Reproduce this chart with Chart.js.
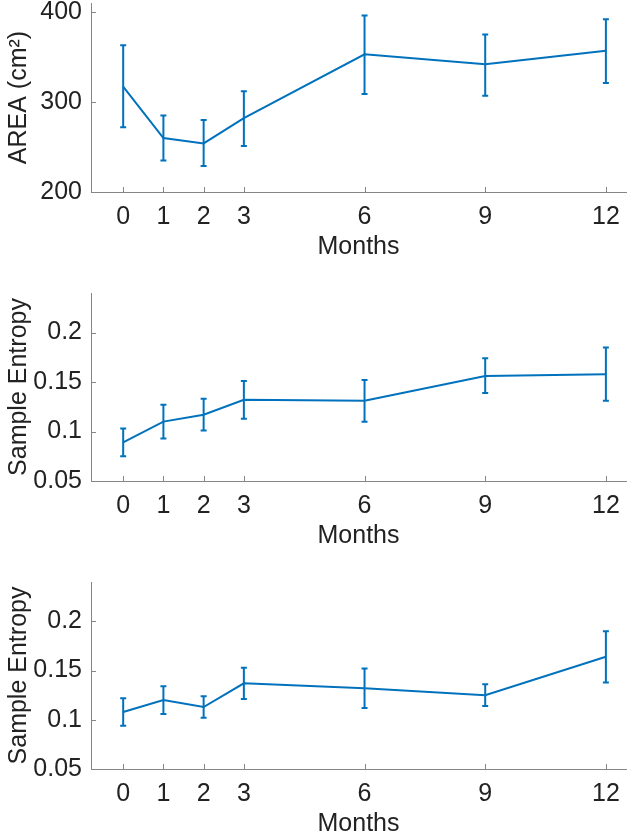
<!DOCTYPE html>
<html>
<head>
    <style>
        body {
            margin: 0;
            background-color: #ffffff;
            overflow: hidden;
            width: 630px;
            height: 837px;
            position: relative;
        }

        /* one canvas per panel, stacked */
        .panel {
            position: absolute;
            left: 0;
            width: 630px;
            height: 290px;
        }
    </style>
    <script src="https://cdn.jsdelivr.net/npm/chart.js"></script>
</head>
<body>
    <canvas id="areaChart" class="panel" width="630" height="290" style="top: 0px;"></canvas>
    <canvas id="entropyChartA" class="panel" width="630" height="290" style="top: 290px;"></canvas>
    <canvas id="entropyChartB" class="panel" width="630" height="290" style="top: 579px;"></canvas>
    <script>
        // x categories (months)
        var months = [0, 1, 2, 3, 6, 9, 12];

        // panel 1: area
        var areaMean = [317, 260, 254, 282, 353, 342, 357];
        var areaLow = [272, 235, 229, 251, 309, 307, 321];
        var areaHigh = [363, 285, 280, 312, 396, 375, 392];
        var areaTicks = [200, 300, 400];

        // panel 2: sample entropy
        var entropyAMean = [0.089, 0.110, 0.117, 0.132, 0.131, 0.156, 0.158];
        var entropyALow = [0.075, 0.093, 0.101, 0.113, 0.110, 0.139, 0.131];
        var entropyAHigh = [0.103, 0.127, 0.133, 0.151, 0.152, 0.174, 0.185];

        // panel 3: sample entropy
        var entropyBMean = [0.108, 0.120, 0.113, 0.137, 0.132, 0.125, 0.164];
        var entropyBLow = [0.094, 0.106, 0.102, 0.121, 0.112, 0.114, 0.138];
        var entropyBHigh = [0.122, 0.134, 0.124, 0.153, 0.152, 0.136, 0.190];

        var entropyTicks = [0.05, 0.1, 0.15, 0.2];

        var lineBlue = '#0072BD';
        var axisGrey = '#858585';
        var textDark = '#222222';
        var fontFamily = '"Liberation Sans", Arial, Helvetica, sans-serif';

        // vertical error bars with small caps
        var errorBarPlugin = {
            id: 'errorBars',
            afterDatasetsDraw: function(chart) {
                var c = chart.ctx;
                var xs = chart.scales.x;
                var ys = chart.scales.y;
                var eb = chart.options.plugins.errorBars;
                c.save();
                c.strokeStyle = lineBlue;
                c.lineWidth = 2;
                for (var i = 0; i < eb.low.length; i++) {
                    var px = xs.getPixelForValue(months[i]);
                    var yl = ys.getPixelForValue(eb.low[i]);
                    var yh = ys.getPixelForValue(eb.high[i]);
                    c.beginPath();
                    c.moveTo(px, yl);
                    c.lineTo(px, yh);
                    c.moveTo(px - 3, yl);
                    c.lineTo(px + 3, yl);
                    c.moveTo(px - 3, yh);
                    c.lineTo(px + 3, yh);
                    c.stroke();
                }
                c.restore();
            }
        };

        // matlab style ticks pointing into the plot
        var inwardTicksPlugin = {
            id: 'inwardTicks',
            afterDraw: function(chart) {
                var c = chart.ctx;
                var area = chart.chartArea;
                c.save();
                c.strokeStyle = axisGrey;
                c.lineWidth = 1;
                chart.scales.x.ticks.forEach(function(t) {
                    var px = Math.round(chart.scales.x.getPixelForValue(t.value)) + 0.5;
                    c.beginPath();
                    c.moveTo(px, area.bottom);
                    c.lineTo(px, area.bottom - 5);
                    c.stroke();
                });
                chart.scales.y.ticks.forEach(function(t) {
                    var py = Math.round(chart.scales.y.getPixelForValue(t.value)) + 0.5;
                    c.beginPath();
                    c.moveTo(area.left, py);
                    c.lineTo(area.left + 5, py);
                    c.stroke();
                });
                c.restore();
            }
        };

        function makePanel(id, mean, low, high, yMin, yMax, yTicks, yTitle, plotHeight, titlePad) {
            var ctx = document.getElementById(id).getContext('2d');
            var points = months.map(function(m, i) { return {x: m, y: mean[i]}; });
            return new Chart(ctx, {
                type: 'line',
                data: {
                    datasets: [{
                        data: points,
                        borderColor: lineBlue,
                        borderWidth: 2,
                        pointRadius: 0,
                        tension: 0,
                        fill: false
                    }]
                },
                options: {
                    responsive: false,
                    animation: false,
                    layout: {
                        autoPadding: false,
                        padding: { top: 3, right: 4, left: 0, bottom: 0 }
                    },
                    plugins: {
                        legend: { display: false },
                        tooltip: { enabled: false },
                        errorBars: { low: low, high: high }
                    },
                    scales: {
                        x: {
                            type: 'linear',
                            min: -0.8,
                            max: 12.5,
                            afterBuildTicks: function(scale) {
                                scale.ticks = months.map(function(v) { return {value: v}; });
                            },
                            afterFit: function(scale) {
                                scale.height = 290 - 3 - plotHeight;
                                scale.paddingLeft = 0;
                                scale.paddingRight = 0;
                            },
                            grid: { display: false, drawTicks: false },
                            border: { display: true, color: axisGrey, width: 1 },
                            ticks: {
                                color: textDark,
                                padding: 10,
                                maxRotation: 0,
                                autoSkip: false,
                                font: { family: fontFamily, size: 25 }
                            },
                            title: {
                                display: true,
                                text: 'Months',
                                color: textDark,
                                padding: { top: 0, bottom: titlePad },
                                font: { family: fontFamily, size: 25 }
                            }
                        },
                        y: {
                            min: yMin,
                            max: yMax,
                            afterBuildTicks: function(scale) {
                                scale.ticks = yTicks.map(function(v) { return {value: v}; });
                            },
                            afterFit: function(scale) {
                                scale.width = 91;
                                scale.paddingTop = 0;
                                scale.paddingBottom = 0;
                            },
                            grid: { display: false, drawTicks: false },
                            border: { display: true, color: axisGrey, width: 1 },
                            ticks: {
                                color: textDark,
                                padding: 9,
                                autoSkip: false,
                                font: { family: fontFamily, size: 25 },
                                callback: function(v) { return String(v); }
                            },
                            title: {
                                display: true,
                                text: yTitle,
                                color: textDark,
                                padding: { top: 4, bottom: 0 },
                                font: { family: fontFamily, size: 25 }
                            }
                        }
                    }
                },
                plugins: [errorBarPlugin, inwardTicksPlugin]
            });
        }

        makePanel('areaChart', areaMean, areaLow, areaHigh, 200, 410, areaTicks, 'AREA (cm\u00B2)', 189, 28);
        makePanel('entropyChartA', entropyAMean, entropyALow, entropyAHigh, 0.05, 0.24, entropyTicks, 'Sample Entropy', 188, 29);
        makePanel('entropyChartB', entropyBMean, entropyBLow, entropyBHigh, 0.05, 0.24, entropyTicks, 'Sample Entropy', 187, 30);
    </script>
</body>
</html>
